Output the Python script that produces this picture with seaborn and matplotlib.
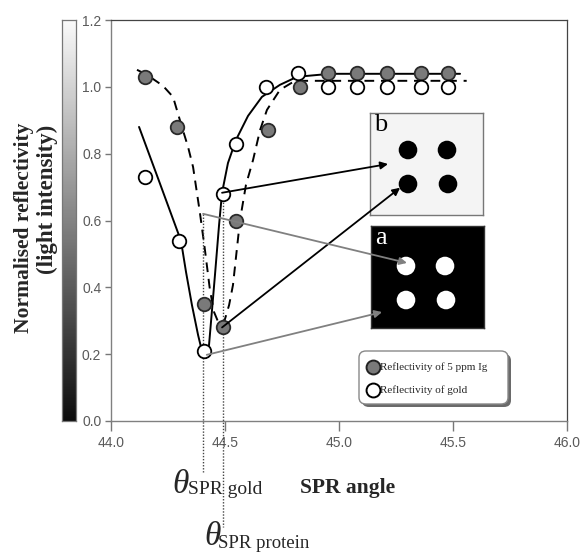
import numpy as np
import matplotlib
matplotlib.use("Agg")
import matplotlib.pyplot as plt
import seaborn as sns
from matplotlib.patches import FancyBboxPatch, Circle

# ---------------- data ----------------
angle_gold = [44.15, 44.30, 44.41, 44.49, 44.55, 44.68, 44.82, 44.95, 45.08, 45.21, 45.36, 45.48]
refl_gold = [0.73, 0.54, 0.21, 0.68, 0.83, 1.00, 1.04, 1.00, 1.00, 1.00, 1.00, 1.00]

angle_protein = [44.15, 44.29, 44.41, 44.49, 44.55, 44.69, 44.83, 44.95, 45.08, 45.21, 45.36, 45.48]
refl_protein = [1.03, 0.88, 0.35, 0.28, 0.60, 0.87, 1.00, 1.04, 1.04, 1.04, 1.04, 1.04]

fit_gold_x = [44.123, 44.215, 44.307, 44.329, 44.355, 44.382, 44.404, 44.417, 44.430,
              44.443, 44.456, 44.474, 44.487, 44.513, 44.548, 44.601, 44.662, 44.741,
              44.816, 44.961, 45.531]
fit_gold_y = [0.880, 0.710, 0.539, 0.446, 0.347, 0.257, 0.195, 0.189, 0.228,
              0.332, 0.437, 0.587, 0.683, 0.772, 0.841, 0.913, 0.970, 1.006,
              1.030, 1.039, 1.039]

fit_prot_x = [44.114, 44.160, 44.228, 44.272, 44.311, 44.338, 44.360, 44.390, 44.412,
              44.434, 44.452, 44.474, 44.496, 44.518, 44.535, 44.566, 44.592, 44.623,
              44.654, 44.684, 44.741, 44.807, 44.960, 45.560]
fit_prot_y = [1.051, 1.035, 1.003, 0.970, 0.880, 0.820, 0.760, 0.623, 0.512,
              0.392, 0.326, 0.290, 0.296, 0.347, 0.407, 0.602, 0.707, 0.781,
              0.871, 0.931, 0.991, 1.018, 1.018, 1.018]

x_ticks = [44.0, 44.5, 45.0, 45.5, 46.0]
y_ticks = [0.0, 0.2, 0.4, 0.6, 0.8, 1.0, 1.2]

theta_gold = 44.405
theta_protein = 44.490

legend_labels = ["Reflectivity of 5 ppm Ig", "Reflectivity of gold"]

# ---------------- figure ----------------
sns.set_theme(style="white")
plt.rcParams['font.family'] = ['Liberation Serif', 'DejaVu Serif']

W, H = 582, 553
fig = plt.figure(figsize=(W / 100, H / 100), dpi=100)
fig.patch.set_facecolor("white")

def fx(px):
    return px / W

def fy(py):
    return 1 - py / H

ax = fig.add_axes([fx(111), fy(421), fx(567) - fx(111), fy(20) - fy(421)])
ax.set_zorder(3)
ax.patch.set_alpha(0)

sns.lineplot(x=fit_gold_x, y=fit_gold_y, ax=ax, color="black", lw=1.4, sort=False,
             estimator=None)
sns.lineplot(x=fit_prot_x, y=fit_prot_y, ax=ax, color="black", lw=1.4, sort=False,
             estimator=None, linestyle=(0, (5, 3.5)))

# dotted theta lines
ax.plot([theta_gold, theta_gold], [0.62, -0.153], ls=(0, (1, 1.2)), color="#444444",
        lw=1.0, clip_on=False, zorder=2)
ax.plot([theta_protein, theta_protein], [0.683, -0.317], ls=(0, (1, 1.2)), color="#444444",
        lw=1.0, clip_on=False, zorder=2)

sns.scatterplot(x=angle_protein, y=refl_protein, ax=ax, s=95, color="#7a7a7a",
                edgecolor="#2a2a2a", linewidth=1.3, zorder=5)
sns.scatterplot(x=angle_gold, y=refl_gold, ax=ax, s=95, color="white",
                edgecolor="black", linewidth=1.3, zorder=6)

# arrows
arrow_specs = [
    ((44.487, 0.683), (45.215, 0.769), "black"),
    ((44.487, 0.280), (45.268, 0.698), "black"),
    ((44.404, 0.620), (45.298, 0.473), "#808080"),
    ((44.420, 0.198), (45.189, 0.326), "#808080"),
]
for start, end, col in arrow_specs:
    ax.annotate("", xy=end, xytext=start,
                arrowprops=dict(arrowstyle="-|>", color=col, lw=1.3,
                                mutation_scale=11, shrinkA=0, shrinkB=0),
                annotation_clip=False, zorder=7)

ax.set_xlim(44.0, 46.0)
ax.set_ylim(0.0, 1.2)
ax.set_xticks(x_ticks)
ax.set_yticks(y_ticks)
ax.set_xticklabels([f"{v:.1f}" for v in x_ticks], family="Liberation Sans",
                   fontsize=10, color="#5a5a5a")
ax.set_yticklabels([f"{v:.1f}" for v in y_ticks], family="Liberation Sans",
                   fontsize=10, color="#5a5a5a")
ax.tick_params(axis="x", direction="out", length=7, width=1, color="#777777", pad=4,
               bottom=True)
ax.tick_params(axis="y", direction="out", length=4, width=1, color="#777777", pad=3,
               left=True)
for side in ["left", "bottom"]:
    ax.spines[side].set_color("#808080")
    ax.spines[side].set_linewidth(1.0)
for side in ["top", "right"]:
    ax.spines[side].set_color("#444444")
    ax.spines[side].set_linewidth(0.9)
ax.set_xlabel("")
ax.set_ylabel("")

# ---------------- colour bar ----------------
cax = fig.add_axes([fx(62), fy(421), fx(76) - fx(62), fy(20) - fy(421)])
grad = np.linspace(0.05, 0.98, 256).reshape(-1, 1)
cax.imshow(grad, cmap="gray", vmin=0, vmax=1, origin="lower", aspect="auto")
cax.set_xticks([])
cax.set_yticks([])
for s in cax.spines.values():
    s.set_color("#777777")
    s.set_linewidth(0.9)

# ---------------- insets ----------------
def inset(x0, y0, x1, y1, face, edge, dot_color, label, label_color, dots):
    iax = fig.add_axes([fx(x0), fy(y1), fx(x1) - fx(x0), fy(y0) - fy(y1)])
    iax.set_zorder(1)
    iax.set_facecolor(face)
    iax.set_xlim(0, x1 - x0)
    iax.set_ylim(y1 - y0, 0)
    iax.set_xticks([])
    iax.set_yticks([])
    for s in iax.spines.values():
        s.set_color(edge)
        s.set_linewidth(1.0)
    for (cx, cy) in dots:
        iax.add_patch(Circle((cx - x0, cy - y0), 9.3, color=dot_color, lw=0))
    iax.text(4, 1, label, color=label_color, fontsize=19, va="top", ha="left")
    return iax

inset(370, 113, 483, 215, "#f4f4f4", "#777777", "black", "b", "black",
      [(408, 150), (447, 150), (408, 184), (448, 184)])
inset(371, 226, 484, 328, "black", "#333333", "white", "a", "white",
      [(406, 266), (445, 266), (406, 300), (446, 300)])

# ---------------- legend box ----------------
lx0, ly0, lx1, ly1 = 359, 351, 508, 404
shadow = FancyBboxPatch((fx(lx0 + 3), fy(ly1 + 3)), fx(lx1) - fx(lx0), fy(ly0) - fy(ly1),
                        boxstyle="round,pad=0,rounding_size=0.012",
                        transform=fig.transFigure, facecolor="#6a6a6a",
                        edgecolor="none", zorder=10)
box = FancyBboxPatch((fx(lx0), fy(ly1)), fx(lx1) - fx(lx0), fy(ly0) - fy(ly1),
                     boxstyle="round,pad=0,rounding_size=0.012",
                     transform=fig.transFigure, facecolor="white",
                     edgecolor="#888888", lw=1.0, zorder=11)
fig.add_artist(shadow)
fig.add_artist(box)
leg_markers = [("#7a7a7a", "#222222"), ("white", "black")]
for i, (lab, (fc, ec)) in enumerate(zip(legend_labels, leg_markers)):
    yy = 367 + i * 23
    fig.add_artist(plt.Line2D([fx(373)], [fy(yy)], marker="o", markersize=10,
                              markerfacecolor=fc, markeredgecolor=ec, mew=1.4,
                              transform=fig.transFigure, zorder=12))
    fig.text(fx(380), fy(yy), lab, fontsize=8, va="center", ha="left", zorder=12)

# ---------------- labels ----------------
fig.text(fx(300), fy(493), "SPR angle", fontsize=15.5, fontweight="bold",
         va="baseline", ha="left")
fig.text(fx(24), fy(123), "Normalised reflectivity", fontsize=15.5, fontweight="bold",
         rotation=90, va="top", ha="center")
fig.text(fx(47), fy(125), "(light intensity)", fontsize=16.5, fontweight="bold",
         rotation=90, va="top", ha="center")

fig.text(fx(172), fy(493), "θ", fontsize=24, style="italic", va="baseline", ha="left")
fig.text(fx(188), fy(494), "SPR gold", fontsize=14, va="baseline", ha="left")
fig.text(fx(204), fy(545), "θ", fontsize=24, style="italic", va="baseline", ha="left")
fig.text(fx(218), fy(548), "SPR protein", fontsize=13.5, va="baseline", ha="left")

fig.savefig("out.png", dpi=100, facecolor="white")
